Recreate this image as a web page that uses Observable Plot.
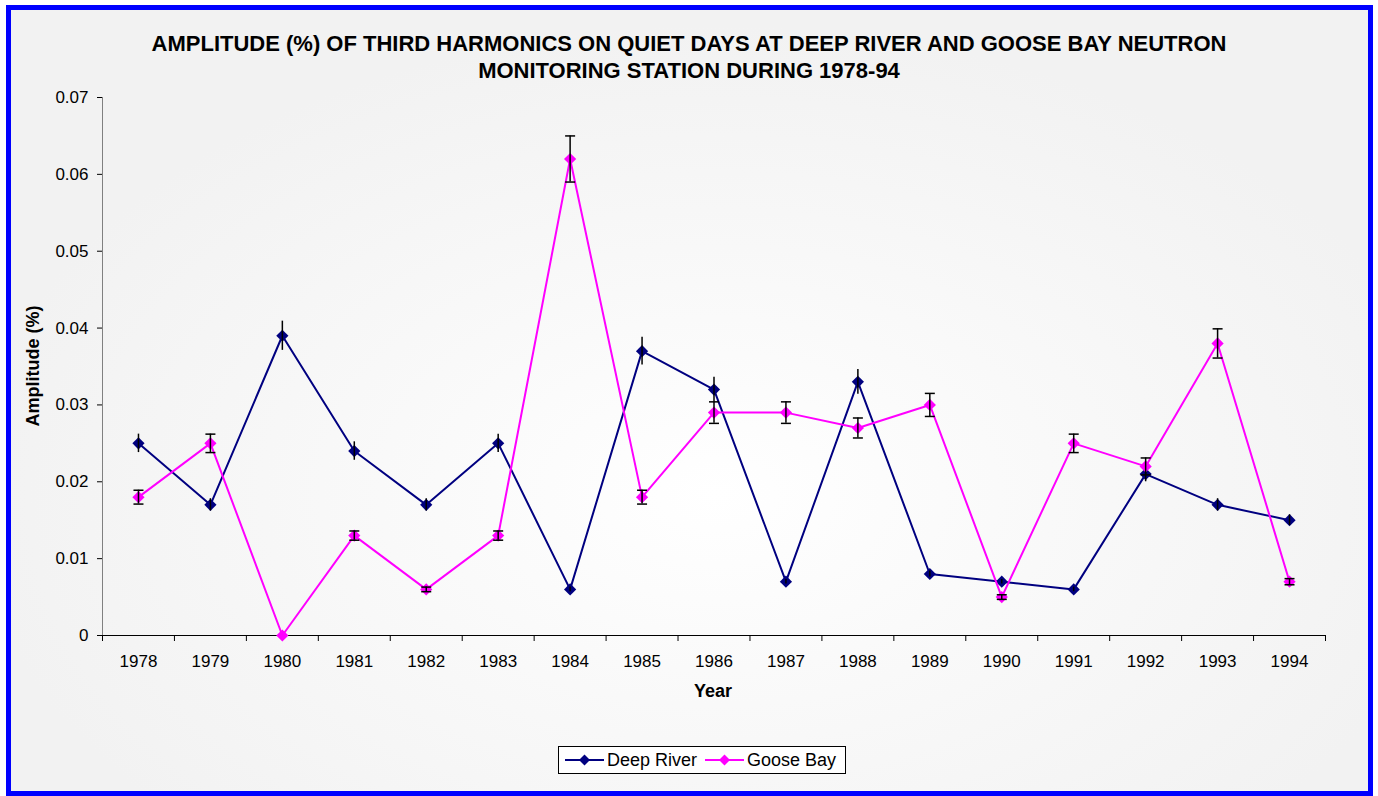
<!DOCTYPE html>
<html>
<head>
<meta charset="utf-8">
<script src="https://cdn.jsdelivr.net/npm/d3@7"></script>
<script src="https://cdn.jsdelivr.net/npm/@observablehq/plot@0.6"></script>
<style>
  html, body { margin: 0; padding: 0; background: #ffffff; }
  body { width: 1378px; height: 796px; position: relative; overflow: hidden; font-family: "Liberation Sans", Arial, sans-serif; }
  #frame { position: absolute; left: 6px; top: 5px; width: 1367px; height: 791px; box-sizing: border-box;
           border: 5px solid #0000ff; background: radial-gradient(ellipse 55% 60% at 52% 62%, #ffffff 0%, #f9f9f9 45%, #f2f2f2 100%); }
  #chart { position: absolute; left: 0; top: 0; }
  .title { position: absolute; left: 0; width: 1378px; text-align: center; font-weight: bold; font-size: 22px; color: #000; line-height: 27px; top: 30px; }
  .ylab { position: absolute; left: 33px; top: 366px; transform: translate(-50%, -50%) rotate(-90deg); font-weight: bold; font-size: 18px; white-space: nowrap; }
  .xlab { position: absolute; left: 713px; top: 691px; transform: translate(-50%, -50%); font-weight: bold; font-size: 18px; }
  #legend { position: absolute; left: 558px; top: 746px; width: 288px; height: 28px; box-sizing: border-box; border: 1px solid #000; background: #fff;
            display: flex; align-items: center; font-size: 18px; }
  #legend .item { display: flex; align-items: center; margin-left: 6px; }
  #legend .item span { margin-left: 3px; margin-right: 2px; }
</style>
</head>
<body>
<div id="frame"></div>
<div class="title">AMPLITUDE (%) OF THIRD HARMONICS ON QUIET DAYS AT DEEP RIVER AND GOOSE BAY NEUTRON<br>MONITORING STATION DURING 1978-94</div>
<div id="chart"></div>
<div class="ylab">Amplitude (%)</div>
<div class="xlab">Year</div>
<div id="legend"></div>
<script>
const years = [1978, 1979, 1980, 1981, 1982, 1983, 1984, 1985, 1986, 1987, 1988, 1989, 1990, 1991, 1992, 1993, 1994];
const deepRiver    = [0.025, 0.017, 0.039, 0.024, 0.017, 0.025, 0.006, 0.037, 0.032, 0.007, 0.033, 0.008, 0.007, 0.006, 0.021, 0.017, 0.015];
const deepRiverErr = [0.0012, 0.0008, 0.0019, 0.0012, 0.0008, 0.0012, 0.0003, 0.0018, 0.0016, 0.0003, 0.0016, 0.0004, 0.0003, 0.0003, 0.0010, 0.0008, 0.0007];
const gooseBay     = [0.018, 0.025, 0.000, 0.013, 0.006, 0.013, 0.062, 0.018, 0.029, 0.029, 0.027, 0.030, 0.005, 0.025, 0.022, 0.038, 0.007];
const gooseBayErr  = [0.0009, 0.0012, 0.0000, 0.0006, 0.0003, 0.0006, 0.0030, 0.0009, 0.0014, 0.0014, 0.0013, 0.0015, 0.0003, 0.0012, 0.0011, 0.0019, 0.0004];
const yTicks = [0, 0.01, 0.02, 0.03, 0.04, 0.05, 0.06, 0.07];
const seriesNames = ["Deep River", "Goose Bay"];
const seriesColors = ["#000080", "#ff00ff"];

const drData = years.map((y, i) => ({year: y, value: deepRiver[i], err: deepRiverErr[i]}));
const gbData = years.map((y, i) => ({year: y, value: gooseBay[i], err: gooseBayErr[i]}));
const boundaries = years.map(y => y - 0.5).concat([years[years.length - 1] + 0.5]);

const cap = { draw(ctx, size) { const w = 5; ctx.moveTo(-w, 0); ctx.lineTo(w, 0); } };

const plot = Plot.plot({
  width: 1378,
  height: 720,
  marginLeft: 102,
  marginRight: 53,
  marginTop: 97,
  marginBottom: 85,
  style: { background: "transparent", fontFamily: "'Liberation Sans', Arial, sans-serif", fontSize: "17px", color: "#000" },
  x: { type: "linear", domain: [boundaries[0], boundaries[boundaries.length - 1]] },
  y: { domain: [0, 0.07] },
  marks: [
    Plot.axisY({ ticks: yTicks, tickSize: 5, tickPadding: 9, tickFormat: d => d === 0 ? "0" : d.toFixed(2), label: null, stroke: "#000" }),
    Plot.axisX({ ticks: boundaries, tickSize: 6, tickFormat: () => "", label: null }),
    Plot.axisX({ ticks: years, tickSize: 0, tickPadding: 19, tickFormat: d => String(d), label: null }),
    Plot.frame({ anchor: "left", stroke: "#808080" }),
    Plot.ruleY([0], { stroke: "#000" }),
    Plot.line(drData, { x: "year", y: "value", stroke: seriesColors[0], strokeWidth: 2 }),
    Plot.dot(drData, { x: "year", y: "value", symbol: "diamond2", r: 5.5, fill: seriesColors[0], stroke: "none" }),
    Plot.ruleX(drData, { x: "year", y1: d => d.value - d.err, y2: d => d.value + d.err, stroke: "#000", strokeWidth: 1.5 }),
    Plot.line(gbData, { x: "year", y: "value", stroke: seriesColors[1], strokeWidth: 2 }),
    Plot.dot(gbData, { x: "year", y: "value", symbol: "diamond2", r: 5.5, fill: seriesColors[1], stroke: "none" }),
    Plot.ruleX(gbData.filter(d => d.err > 0), { x: "year", y1: d => d.value - d.err, y2: d => d.value + d.err, stroke: "#000", strokeWidth: 1.5 }),
    Plot.dot(gbData.filter(d => d.err > 0), { x: "year", y: d => d.value - d.err, symbol: cap, fill: "none", stroke: "#000", strokeWidth: 1.5 }),
    Plot.dot(gbData.filter(d => d.err > 0), { x: "year", y: d => d.value + d.err, symbol: cap, fill: "none", stroke: "#000", strokeWidth: 1.5 })
  ]
});
document.getElementById("chart").appendChild(plot);

// Legend
const legend = document.getElementById("legend");
seriesNames.forEach((name, i) => {
  const item = document.createElement("div");
  item.className = "item";
  item.innerHTML = `<svg width="39" height="14"><line x1="0" y1="7" x2="39" y2="7" stroke="${seriesColors[i]}" stroke-width="2"/><path d="M19.5,1.5L25,7L19.5,12.5L14,7Z" fill="${seriesColors[i]}"/></svg><span>${name}</span>`;
  legend.appendChild(item);
});
</script>
</body>
</html>
